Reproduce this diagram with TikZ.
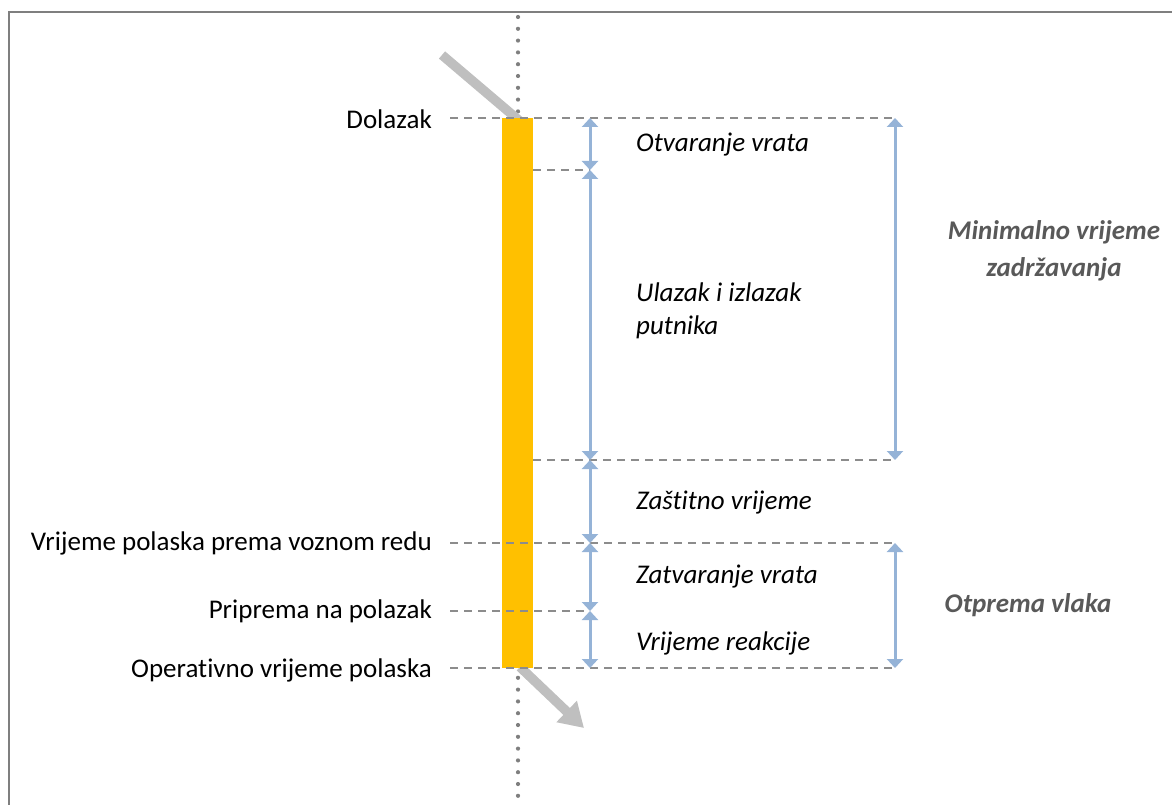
\documentclass[tikz,border=0pt]{standalone}
\usepackage{fontspec}
\setmainfont{Carlito}[Ligatures={NoCommon}]
\usetikzlibrary{arrows.meta}
\definecolor{barorange}{HTML}{FFC000}
\definecolor{dimblue}{HTML}{95B3D7}
\definecolor{dashgray}{HTML}{8C8C8C}
\definecolor{framegray}{HTML}{7F7F7F}
\definecolor{arrowgray}{HTML}{BFBFBF}
\definecolor{labgray}{HTML}{595959}
\begin{document}
\begin{tikzpicture}[x=1pt,y=-1pt,
  guide/.style={draw=dashgray,line width=1.4pt,dash pattern=on 8pt off 6pt},
  dimline/.style={draw=dimblue,line width=3pt,{Triangle[length=9pt,width=16pt]}-{Triangle[length=9pt,width=16pt]}},
  leftlab/.style={anchor=east,inner sep=0pt,font=\fontsize{27}{32}\selectfont},
  steplab/.style={anchor=west,inner sep=0pt,align=left,font=\fontsize{27}{33}\selectfont\itshape},
  sumlab/.style={inner sep=0pt,align=center,text=labgray,font=\fontsize{27}{37}\selectfont\bfseries\itshape}]
\useasboundingbox (0,0) rectangle (1172,805);
% frame
\draw[framegray,line width=2pt] (9,805) -- (9,12) -- (1172,12);
% dotted time axis
\coordinate (axtop) at (518,17);
\coordinate (axbot) at (518,805);
\draw[draw=framegray,line width=4.2pt,line cap=round,dash pattern=on 0pt off 11.8pt] (axtop) -- (axbot);
% incoming arrow
\begin{scope}
\clip (400,0) rectangle (560,118);
\coordinate (inA) at (442,55);
\coordinate (inB) at (522,123);
\draw[arrowgray,line width=9.5pt] (inA) -- (inB);
\end{scope}
% outgoing arrow
\coordinate (outA) at (520,667);
\coordinate (outB) at (584,728);
\draw[arrowgray,line width=9.5pt,-{Triangle[length=24pt,width=28pt]}] (outA) -- (outB);
% bar
\fill[barorange] (502,118) rectangle (533,668);
% guide coordinates
\coordinate (g1l) at (450,118); \coordinate (g1r) at (895,118);
\coordinate (g2l) at (533,170); \coordinate (g2r) at (590,170);
\coordinate (g3l) at (533,460); \coordinate (g3r) at (895,460);
\coordinate (g4l) at (450,543); \coordinate (g4r) at (895,543);
\coordinate (g5l) at (450,611); \coordinate (g5r) at (590,611);
\coordinate (g6l) at (450,668); \coordinate (g6r) at (895,668);
\foreach \i in {1,...,6} \draw[guide] (g\i l) -- (g\i r);
% dimension arrows
\coordinate (a1) at (590,118); \coordinate (a2) at (590,170);
\coordinate (a3) at (590,460); \coordinate (a4) at (590,543);
\coordinate (a5) at (590,611); \coordinate (a6) at (590,668);
\draw[dimline] (a1) -- (a2);
\draw[dimline] (a2) -- (a3);
\draw[dimline] (a3) -- (a4);
\draw[dimline] (a4) -- (a5);
\draw[dimline] (a5) -- (a6);
\coordinate (b1) at (895,118); \coordinate (b3) at (895,460);
\coordinate (b4) at (895,543); \coordinate (b6) at (895,668);
\draw[dimline] (b1) -- (b3);
\draw[dimline] (b4) -- (b6);
% left labels
\node[leftlab] (dol) at (432,119) {Dolazak};
\node[leftlab] (vpr) at (432,543) {Vrijeme polaska prema voznom redu};
\node[leftlab] (ppp) at (432,611) {Priprema na polazak};
\node[leftlab] (ovp) at (432,670) {Operativno vrijeme polaska};
% step labels
\node[steplab] (otv) at (636,145) {Otvaranje vrata};
\node[steplab] (ulz) at (636,311) {Ulazak i izlazak\\putnika};
\node[steplab] (zas) at (636,503) {Zaštitno vrijeme};
\node[steplab] (zat) at (636,577) {Zatvaranje vrata};
\node[steplab] (rea) at (636,643) {Vrijeme reakcije};
% summary labels
\node[sumlab] (min) at (1054,251) {Minimalno vrijeme\\zadržavanja};
\node[sumlab] (otp) at (1028,605) {Otprema vlaka};
\end{tikzpicture}
\end{document}
